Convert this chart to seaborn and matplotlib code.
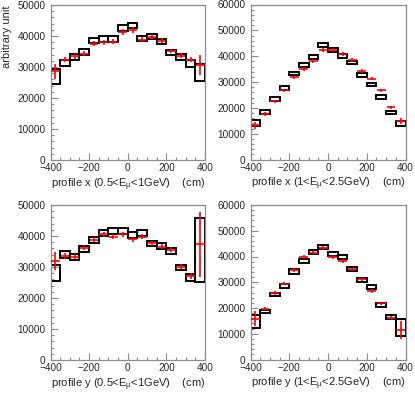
import numpy as np
import matplotlib
matplotlib.use('Agg')
import matplotlib.pyplot as plt
import seaborn as sns

# bin centres (cm), 50 cm wide bins
bin_centres = [-375, -325, -275, -225, -175, -125, -75, -25, 25, 75, 125, 175, 225, 275, 325, 375]
bin_width = 50

# profile x, 0.5<E<1 GeV  (values in units of 1000)
px_low_box_hi = [29.2, 32.3, 34.2, 35.8, 39.4, 40.0, 39.9, 43.6, 44.3, 40.1, 40.6, 39.1, 35.5, 34.3, 32.1, 31.0]
px_low_box_lo = [24.4, 30.2, 32.3, 33.9, 37.6, 38.2, 38.1, 41.7, 42.5, 38.4, 39.0, 37.4, 33.9, 32.3, 29.9, 25.4]
px_low_red = [28.6, 32.3, 33.4, 34.3, 37.5, 38.0, 38.1, 41.2, 42.0, 38.8, 39.7, 38.4, 35.1, 33.7, 32.3, 30.7]
px_low_err = [2.5, 0.8, 0.7, 0.7, 0.8, 0.8, 0.8, 0.9, 0.9, 0.8, 0.8, 0.8, 0.7, 0.7, 0.8, 3.2]

# profile x, 1<E<2.5 GeV
px_high_box_hi = [15.4, 19.3, 24.1, 28.3, 34.0, 37.4, 40.4, 45.0, 43.3, 40.8, 38.2, 33.4, 29.6, 24.8, 18.9, 15.0]
px_high_box_lo = [13.0, 17.8, 22.7, 27.0, 32.6, 36.0, 38.8, 43.4, 41.7, 39.2, 36.8, 32.1, 28.3, 23.5, 17.6, 12.8]
px_high_red = [13.2, 17.6, 22.6, 26.8, 31.8, 35.1, 38.2, 42.4, 42.4, 40.9, 38.6, 34.2, 31.2, 26.8, 20.2, 15.0]
px_high_err = [1.2, 0.6, 0.6, 0.6, 0.6, 0.7, 0.7, 0.8, 0.8, 0.7, 0.7, 0.7, 0.6, 0.6, 0.6, 1.2]

# profile y, 0.5<E<1 GeV
py_low_box_hi = [30.6, 35.3, 34.1, 36.8, 39.6, 41.9, 42.5, 42.7, 41.2, 41.9, 38.5, 37.6, 36.2, 30.8, 27.7, 45.9]
py_low_box_lo = [25.5, 32.8, 32.3, 34.9, 37.8, 40.0, 40.5, 40.8, 39.5, 40.0, 36.8, 35.8, 34.3, 29.1, 25.5, 25.1]
py_low_red = [31.9, 33.5, 33.3, 36.2, 38.8, 40.6, 39.8, 40.6, 38.9, 39.8, 37.6, 36.6, 35.5, 30.1, 27.0, 37.3]
py_low_err = [3.0, 1.0, 0.8, 0.8, 0.8, 0.8, 0.8, 0.8, 0.8, 0.8, 0.8, 0.8, 0.8, 0.8, 1.0, 10.5]

# profile y, 1<E<2.5 GeV
py_high_box_hi = [17.2, 19.4, 26.0, 29.4, 35.0, 39.1, 42.5, 44.4, 41.8, 40.6, 35.8, 31.7, 28.8, 22.0, 17.1, 15.9]
py_high_box_lo = [12.4, 17.9, 24.6, 27.8, 33.2, 37.4, 40.8, 42.8, 40.3, 38.9, 34.3, 30.2, 27.2, 20.5, 15.6, 9.1]
py_high_red = [15.9, 19.8, 25.9, 29.5, 34.7, 39.7, 41.5, 43.4, 39.9, 38.2, 35.0, 31.1, 26.6, 21.8, 16.3, 11.4]
py_high_err = [3.0, 0.7, 0.7, 0.7, 0.7, 0.7, 0.7, 0.7, 0.7, 0.7, 0.7, 0.7, 0.7, 0.7, 0.7, 3.5]

titles = [r'profile x (0.5<E$_{\mu}$<1GeV)    (cm)',
          r'profile x (1<E$_{\mu}$<2.5GeV)    (cm)',
          r'profile y (0.5<E$_{\mu}$<1GeV)    (cm)',
          r'profile y (1<E$_{\mu}$<2.5GeV)    (cm)']
ymaxes = [50000, 60000, 50000, 60000]

sns.set_style('ticks')
plt.rcParams['font.family'] = ['Liberation Sans', 'DejaVu Sans']
plt.rcParams['mathtext.fontset'] = 'custom'
plt.rcParams['mathtext.rm'] = 'Liberation Sans'
plt.rcParams['mathtext.it'] = 'Liberation Sans'
plt.rcParams['xtick.direction'] = 'in'
plt.rcParams['ytick.direction'] = 'in'

W, H = 415, 393
fig = plt.figure(figsize=(W / 100, H / 100), dpi=100)

# axes boxes in pixels: left, right, top, bottom
boxes = [(50.5, 205, 5, 160), (250.5, 405.5, 4.5, 159.5),
         (50.5, 205, 205, 360), (250.5, 405.5, 205, 359.5)]

panels = [
    (px_low_box_hi, px_low_box_lo, px_low_red, px_low_err),
    (px_high_box_hi, px_high_box_lo, px_high_red, px_high_err),
    (py_low_box_hi, py_low_box_lo, py_low_red, py_low_err),
    (py_high_box_hi, py_high_box_lo, py_high_red, py_high_err),
]

frame_col = '#8c8c8c'
for i, ((l, r, t, b), (hi, lo, red, err)) in enumerate(zip(boxes, panels)):
    ax = fig.add_axes([l / W, 1 - b / H, (r - l) / W, (b - t) / H])
    hi = np.array(hi) * 1000
    lo = np.array(lo) * 1000
    red = np.array(red) * 1000
    err = np.array(err) * 1000
    ax.bar(bin_centres, hi - lo, bottom=lo, width=bin_width, fill=False,
           edgecolor='black', linewidth=1.4, zorder=2)
    ax.errorbar(bin_centres, red, yerr=err, xerr=23, fmt='none',
                ecolor='#ff0000', elinewidth=1.2, capsize=0, zorder=3)
    ax.set_xlim(-400, 400)
    ax.set_ylim(0, ymaxes[i])
    ax.set_xticks([-400, -200, 0, 200, 400])
    ax.set_xticks(np.arange(-400, 401, 50), minor=True)
    ax.set_yticks(np.arange(0, ymaxes[i] + 1, 10000))
    ax.set_yticks(np.arange(0, ymaxes[i] + 1, 2000), minor=True)
    ax.tick_params(which='major', length=5, width=0.8, color=frame_col,
                   labelsize=7.2, pad=2.5)
    ax.tick_params(which='minor', length=2.5, width=0.8, color=frame_col)
    ax.tick_params(axis='y', which='major', pad=3.5)
    for sp in ax.spines.values():
        sp.set_visible(True)
        sp.set_color(frame_col)
        sp.set_linewidth(0.9)
    ax.set_xlabel(titles[i], fontsize=8, loc='right', labelpad=2)
    if i == 0:
        ax.set_ylabel('arbitrary unit', fontsize=8, loc='top')
        ax.yaxis.set_label_coords(-0.25, 1.0)

fig.savefig('out.png', dpi=100)
